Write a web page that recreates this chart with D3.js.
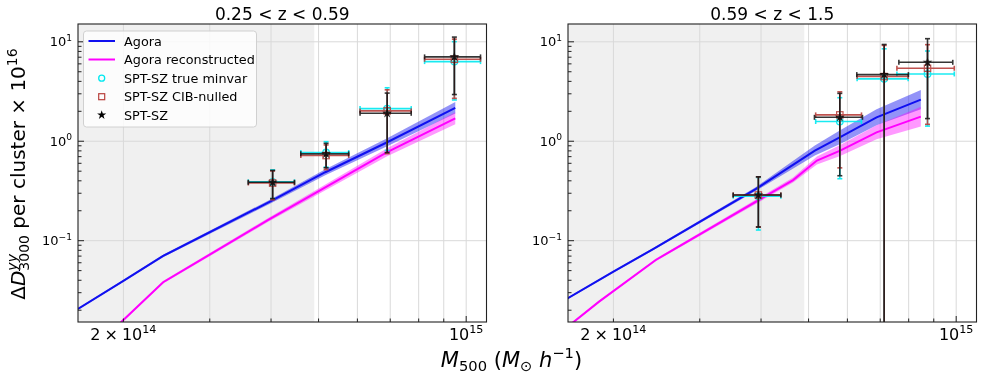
<!DOCTYPE html>
<html><head><meta charset="utf-8">
<script src="https://cdn.jsdelivr.net/npm/d3@7"></script>
<style>
body{margin:0;background:#fff}
svg{display:block}
text{font-family:"DejaVu Sans",sans-serif;fill:#000}
</style>
</head><body>
<svg id="c" width="983" height="379"></svg>
<script>
// ---------------- DATA ----------------
const panelTitles = ["0.25 < z < 0.59", "0.59 < z < 1.5"];
const xTickValues = [2e14,3e14,4e14,5e14,6e14,7e14,8e14,9e14,1e15];
const yMajorTicks = [0.1, 1, 10];
const shadeMaxMass = 4.9e14;

// Agora model curves (mass nodes, value, band half-width in dex)
const lowZ_modelMass   = [1.616e14, 2.0e14, 2.41e14, 3.98e14, 5.16e14, 6.9e14, 9.5e14];
const lowZ_agora       = [0.0206, 0.0395, 0.0702, 0.247, 0.488, 0.977, 2.17];
const lowZ_agoraBand   = [0.008, 0.01, 0.012, 0.02, 0.03, 0.04, 0.057];
const lowZ_recMass     = [1.616e14, 1.98e14, 2.41e14, 3.94e14, 6.9e14, 9.5e14];
const lowZ_agoraRec    = [0.0062, 0.0152, 0.0382, 0.161, 0.776, 1.70];
const lowZ_recBand     = [0.01, 0.01, 0.012, 0.02, 0.04, 0.06];

const highZ_modelMass  = [1.606e14, 2.0e14, 2.4e14, 3.9e14, 5.15e14, 5.8e14, 6.88e14, 8.47e14];
const highZ_agora      = [0.026, 0.0488, 0.0814, 0.33, 0.806, 1.10, 1.74, 2.62];
const highZ_agoraBand  = [0.008, 0.01, 0.012, 0.02, 0.05, 0.07, 0.08, 0.097];
const highZ_recMass    = [1.606e14, 1.87e14, 2.44e14, 4.65e14, 5.2e14, 5.8e14, 6.88e14, 8.47e14];
const highZ_agoraRec   = [0.0134, 0.0244, 0.064, 0.407, 0.64, 0.806, 1.23, 1.77];
const highZ_recBand    = [0.01, 0.01, 0.012, 0.025, 0.04, 0.055, 0.07, 0.1];

// SPT-SZ measurements, low-z
const lowZ_mass        = [4.03e14, 5.18e14, 6.9e14, 9.46e14];
const lowZ_massErr     = [0.435e14, 0.58e14, 0.825e14, 1.235e14];
const lowZ_minvar      = [0.39, 0.77, 2.13, 6.32];
const lowZ_minvarErr   = [0.125, 0.22, 1.32, 3.72];
const lowZ_cib         = [0.38, 0.718, 2.02, 6.67];
const lowZ_cibErr      = [0.122, 0.20, 1.27, 3.97];
const lowZ_spt         = [0.387, 0.747, 1.91, 7.05];
const lowZ_sptErr      = [0.122, 0.206, 1.14, 4.10];

// SPT-SZ measurements, high-z
const highZ_mass       = [3.95e14, 5.79e14, 7.13e14, 8.74e14];
const highZ_massErr    = [0.44e14, 0.65e14, 0.86e14, 1.10e14];
const highZ_massErrAlt = [0.44e14, 0.62e14, 0.85e14, 1.17e14];
const highZ_minvar     = [0.28, 1.58, 4.24, 4.75];
const highZ_minvarErr  = [0.152, 1.16, 4.26, 3.33];
const highZ_cib        = [0.288, 1.84, 4.47, 5.42];
const highZ_cibErr     = [0.15, 1.30, 4.73, 3.94];
const highZ_spt        = [0.288, 1.74, 4.68, 6.22];
const highZ_sptErr     = [0.151, 1.29, 4.72, 4.53];

const legendLabels = ["Agora", "Agora reconstructed", "SPT-SZ true minvar", "SPT-SZ CIB-nulled", "SPT-SZ"];

// ---------------- STYLE ----------------
const plotTop = 24, plotBottom = 322, pw = 408.5;
const panelLeft = [78, 568];
const C = {blue:"#1010f0", mag:"#ff00ff", cyan:"#00e8f0", red:"#b8403c", black:"#000"};
const FS = {xtick:16, ytick:13, title:17, legend:12.8, ylabel:20, xlabel:21};

const svg = d3.select("#c");

function mathText(parent, parts, fs, attrs) {
  const t = parent.append("text");
  Object.entries(attrs||{}).forEach(([k,v]) => t.attr(k,v));
  t.style("font-size", fs+"px");
  let cur = 0, prevLen = 0, pending = 0;
  parts.forEach(p => {
    const small = p.sub || p.sup;
    const size = small ? fs*0.7 : fs;
    const target = p.sub ? 0.22*fs : (p.sup ? -0.42*fs : 0);
    const ts = t.append("tspan").text(p.t).style("font-size", size+"px")
      .attr("dy", (target-cur).toFixed(2));
    if (p.it) ts.style("font-style","italic");
    let dx = (p.dx || 0) + pending;
    pending = 0;
    const stackedOn = prevLen;
    if (p.stack) dx -= prevLen;
    if (dx) ts.attr("dx", dx.toFixed(2));
    cur = target;
    const len = ts.node().getComputedTextLength();
    if (p.stack && stackedOn > len) pending = stackedOn - len;
    prevLen = p.stack ? Math.max(len, stackedOn) : len;
  });
  return t;
}

const x = d3.scaleLog().domain([1.616e14, 1.10e15]);
const y = d3.scaleLog().domain([0.01522, 15.1]).range([plotBottom, plotTop]);

const panels = [
  {title: panelTitles[0], mm: lowZ_modelMass, ag: lowZ_agora, agB: lowZ_agoraBand,
   rm: lowZ_recMass, rec: lowZ_agoraRec, recB: lowZ_recBand,
   mass: lowZ_mass, mErr: lowZ_massErr, mErrAlt: lowZ_massErr,
   minvar: lowZ_minvar, minvarErr: lowZ_minvarErr, cib: lowZ_cib, cibErr: lowZ_cibErr,
   spt: lowZ_spt, sptErr: lowZ_sptErr, legend: true},
  {title: panelTitles[1], mm: highZ_modelMass, ag: highZ_agora, agB: highZ_agoraBand,
   rm: highZ_recMass, rec: highZ_agoraRec, recB: highZ_recBand,
   mass: highZ_mass, mErr: highZ_massErr, mErrAlt: highZ_massErrAlt,
   minvar: highZ_minvar, minvarErr: highZ_minvarErr, cib: highZ_cib, cibErr: highZ_cibErr,
   spt: highZ_spt, sptErr: highZ_sptErr, legend: false}
];

panels.forEach((P, pi) => {
  const L = panelLeft[pi];
  const xs = x.copy().range([L, L+pw]);
  const g = svg.append("g");
  const clipId = "clip"+pi;
  svg.append("clipPath").attr("id", clipId).append("rect")
    .attr("x", L).attr("y", plotTop).attr("width", pw).attr("height", plotBottom-plotTop);
  const pg = g.append("g").attr("clip-path", `url(#${clipId})`);

  // shaded region
  pg.append("rect").attr("x", L).attr("y", plotTop)
    .attr("width", xs(shadeMaxMass)-L).attr("height", plotBottom-plotTop)
    .attr("fill", "#f0f0f0");

  // grid
  pg.selectAll(".vg").data(xTickValues).join("line")
    .attr("x1", d=>xs(d)).attr("x2", d=>xs(d)).attr("y1", plotTop).attr("y2", plotBottom)
    .attr("stroke", "#d9d9d9").attr("stroke-width", 1);
  pg.selectAll(".hg").data(yMajorTicks).join("line")
    .attr("x1", L).attr("x2", L+pw).attr("y1", d=>y(d)).attr("y2", d=>y(d))
    .attr("stroke", "#d9d9d9").attr("stroke-width", 1);

  // model bands + lines
  const area = (ms, vs, bs) => d3.area()
    .x((d,i)=>xs(ms[i]))
    .y0((d,i)=>y(vs[i]*Math.pow(10,-bs[i])))
    .y1((d,i)=>y(vs[i]*Math.pow(10,bs[i])))(vs);
  const line = (ms, vs) => d3.line().x((d,i)=>xs(ms[i])).y(d=>y(d))(vs);
  pg.append("path").attr("d", area(P.mm, P.ag, P.agB)).attr("fill", C.blue).attr("fill-opacity", 0.45);
  pg.append("path").attr("d", area(P.rm, P.rec, P.recB)).attr("fill", C.mag).attr("fill-opacity", 0.4);
  pg.append("path").attr("d", line(P.mm, P.ag)).attr("fill","none").attr("stroke", C.blue).attr("stroke-width", 2);
  pg.append("path").attr("d", line(P.rm, P.rec)).attr("fill","none").attr("stroke", C.mag).attr("stroke-width", 2);

  // error bars
  const ymin = y.domain()[0];
  function series(vals, errs, mErr, color, marker, op) {
    const sg = pg.append("g").attr("stroke", color).attr("stroke-width", 1.6).attr("opacity", op);
    vals.forEach((v,i) => {
      const cx = xs(P.mass[i]), cy = y(v);
      const x0 = xs(P.mass[i]-mErr[i]), x1 = xs(P.mass[i]+mErr[i]);
      const lo = v - errs[i], hi = v + errs[i];
      const y0 = lo > ymin ? y(lo) : plotBottom + 5, y1 = y(hi);
      const cap = 2.5;
      sg.append("line").attr("x1",x0).attr("x2",x1).attr("y1",cy).attr("y2",cy);
      sg.append("line").attr("x1",x0).attr("x2",x0).attr("y1",cy-cap).attr("y2",cy+cap);
      sg.append("line").attr("x1",x1).attr("x2",x1).attr("y1",cy-cap).attr("y2",cy+cap);
      sg.append("line").attr("x1",cx).attr("x2",cx).attr("y1",y0).attr("y2",y1);
      sg.append("line").attr("x1",cx-cap).attr("x2",cx+cap).attr("y1",y1).attr("y2",y1);
      if (lo > ymin) sg.append("line").attr("x1",cx-cap).attr("x2",cx+cap).attr("y1",y0).attr("y2",y0);
      marker(sg, cx, cy);
    });
  }
  const circ = (s,cx,cy) => s.append("circle").attr("cx",cx).attr("cy",cy).attr("r",3.3).attr("fill","none").attr("stroke-width",1.3);
  const sq = (s,cx,cy) => s.append("rect").attr("x",cx-3.2).attr("y",cy-3.2).attr("width",6.4).attr("height",6.4).attr("fill","none").attr("stroke-width",1.2);
  const star = (s,cx,cy) => s.append("path").attr("d", d3.symbol(d3.symbolStar).size(30)()).attr("transform",`translate(${cx},${cy})`).attr("fill","#000").attr("stroke","none");
  series(P.minvar, P.minvarErr, P.mErrAlt, C.cyan, circ, 0.9);
  series(P.cib, P.cibErr, P.mErrAlt, C.red, sq, 0.9);
  series(P.spt, P.sptErr, P.mErr, "#111", star, 0.85);

  // spines
  g.append("rect").attr("x", L).attr("y", plotTop).attr("width", pw).attr("height", plotBottom-plotTop)
    .attr("fill","none").attr("stroke","#222").attr("stroke-width",1.1);

  // x ticks (inward)
  xTickValues.forEach(v => {
    const major = v === 1e15;
    g.append("line").attr("x1", xs(v)).attr("x2", xs(v)).attr("y1", plotBottom).attr("y2", plotBottom-(major?6:3.5))
      .attr("stroke","#222").attr("stroke-width",1);
  });
  mathText(g, [{t:"2"},{t:"×", dx:4},{t:"10", dx:4},{t:"14", sup:true}], FS.xtick,
    {x: xs(2e14), y: 340, "text-anchor":"middle"});
  mathText(g, [{t:"10"},{t:"15", sup:true}], FS.xtick,
    {x: xs(1e15), y: 340, "text-anchor":"middle"});

  // y ticks (inward)
  const yMinor = [];
  [0.01, 0.1, 1, 10].forEach(dec => { for (let k=2;k<=9;k++) yMinor.push(dec*k); });
  yMinor.filter(v => v > y.domain()[0] && v < y.domain()[1]).forEach(v => {
    g.append("line").attr("x1", L).attr("x2", L+3.5).attr("y1", y(v)).attr("y2", y(v))
      .attr("stroke","#222").attr("stroke-width",1);
  });
  const yLab = {0.1:"−1", 1:"0", 10:"1"};
  yMajorTicks.forEach(v => {
    g.append("line").attr("x1", L).attr("x2", L+6).attr("y1", y(v)).attr("y2", y(v))
      .attr("stroke","#222").attr("stroke-width",1);
    mathText(g, [{t:"10"},{t:yLab[v], sup:true}], FS.ytick,
      {x: L-6, y: y(v)+4.7, "text-anchor":"end"});
  });

  // title
  g.append("text").attr("x", L+pw/2).attr("y", 19.5).attr("text-anchor","middle")
    .style("font-size", FS.title+"px").text(P.title);

  // legend
  if (P.legend) {
    const lg = g.append("g");
    lg.append("rect").attr("x", 83.5).attr("y", 31).attr("width", 173).attr("height", 96)
      .attr("rx", 3).attr("fill","#fff").attr("fill-opacity",0.8).attr("stroke","#d0d0d0");
    const ys = [41, 59.5, 78.2, 96.7, 115];
    lg.append("line").attr("x1",88.5).attr("x2",115).attr("y1",ys[0]).attr("y2",ys[0]).attr("stroke",C.blue).attr("stroke-width",2);
    lg.append("line").attr("x1",88.5).attr("x2",115).attr("y1",ys[1]).attr("y2",ys[1]).attr("stroke",C.mag).attr("stroke-width",2);
    lg.append("circle").attr("cx",101.7).attr("cy",ys[2]).attr("r",3).attr("fill","none").attr("stroke",C.cyan).attr("stroke-width",1.3);
    lg.append("rect").attr("x",98.7).attr("y",ys[3]-3).attr("width",6).attr("height",6).attr("fill","none").attr("stroke",C.red).attr("stroke-width",1.2);
    lg.append("path").attr("d", d3.symbol(d3.symbolStar).size(26)()).attr("transform",`translate(101.7,${ys[4]})`).attr("fill","#000");
    legendLabels.forEach((t,i) => {
      lg.append("text").attr("x",124).attr("y",ys[i]+4.6).style("font-size",FS.legend+"px").text(t);
    });
  }
});

// axis labels
const yl = svg.append("g").attr("transform", "translate(25,174) rotate(-90)");
const ylt = mathText(yl, [{t:"Δ"},{t:"D",it:true},{t:"3000",sub:true},{t:"yy",sup:true,it:true,stack:true},
  {t:" per cluster × 10"},{t:"16",sup:true}], FS.ylabel, {x:0, y:0});
const bb = ylt.node().getBBox();
ylt.attr("x", -bb.width/2);

const xl = mathText(svg, [{t:"M",it:true},{t:"500",sub:true},{t:" (",},{t:"M",it:true},{t:"⊙",sub:true},
  {t:" "},{t:"h",it:true},{t:"−1",sup:true},{t:")"}], FS.xlabel, {x:0, y:366.5});
const xb = xl.node().getBBox();
xl.attr("x", 511.5 - xb.width/2);
</script>
</body></html>
